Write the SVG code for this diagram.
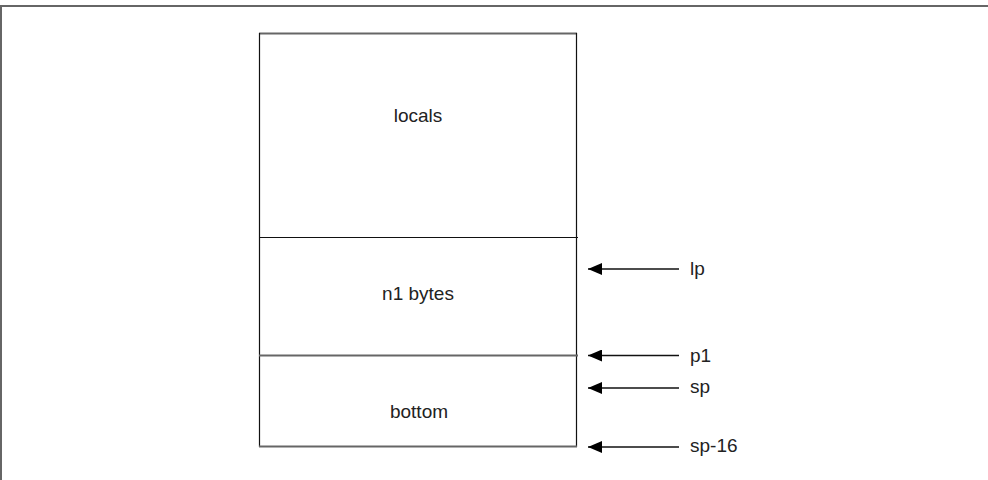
<svg xmlns="http://www.w3.org/2000/svg" width="988" height="480" viewBox="0 0 988 480">
<style>
.t{font-family:"Liberation Sans",Arial,sans-serif;font-size:19px;fill:#222;}
.ln{stroke:#111;stroke-width:1.2;fill:none;}
.gr{stroke:#666;stroke-width:2;fill:none;}
.ar{stroke:#111;stroke-width:1.3;fill:none;}
</style>
<defs>
<marker id="ah" viewBox="0 0 14 12" refX="14" refY="6" markerWidth="14" markerHeight="12" markerUnits="userSpaceOnUse" orient="auto">
<path d="M0,0 L14,6 L0,12 Z" fill="#000"/>
</marker>
</defs>
<rect width="988" height="480" fill="#fff"/>
<g id="frame">
<path class="gr" d="M1,480 L1,6 L988,6" stroke-width="1.5"/>
</g>
<g id="stack">
<line class="gr" x1="259" y1="33.5" x2="577" y2="33.5"/>
<line class="ln" x1="259.5" y1="33" x2="259.5" y2="447"/>
<line class="ln" x1="576.5" y1="33" x2="576.5" y2="447"/>
<line class="gr" x1="259" y1="446.5" x2="577" y2="446.5" stroke-width="1.6"/>
</g>
<g id="locals">
<text class="t" x="418" y="122" text-anchor="middle">locals</text>
</g>
<g id="n1bytes">
<line class="ln" x1="259" y1="237.5" x2="578" y2="237.5"/>
<text class="t" x="418" y="300" text-anchor="middle">n1 bytes</text>
</g>
<g id="bottom">
<line class="gr" x1="259" y1="355.5" x2="578" y2="355.5"/>
<text class="t" x="419" y="418" text-anchor="middle">bottom</text>
</g>
<g id="connectors">
<line class="ar" x1="679" y1="269" x2="588" y2="269" marker-end="url(#ah)"/>
<line class="ar" x1="679" y1="355.5" x2="588" y2="355.5" marker-end="url(#ah)"/>
<line class="ar" x1="679" y1="388" x2="588" y2="388" marker-end="url(#ah)"/>
<line class="ar" x1="679" y1="447" x2="588" y2="447" marker-end="url(#ah)"/>
</g>
<g id="labels">
<text class="t" x="690" y="275">lp</text>
<text class="t" x="690" y="362">p1</text>
<text class="t" x="690" y="393">sp</text>
<text class="t" x="690" y="452">sp-16</text>
</g>
</svg>
